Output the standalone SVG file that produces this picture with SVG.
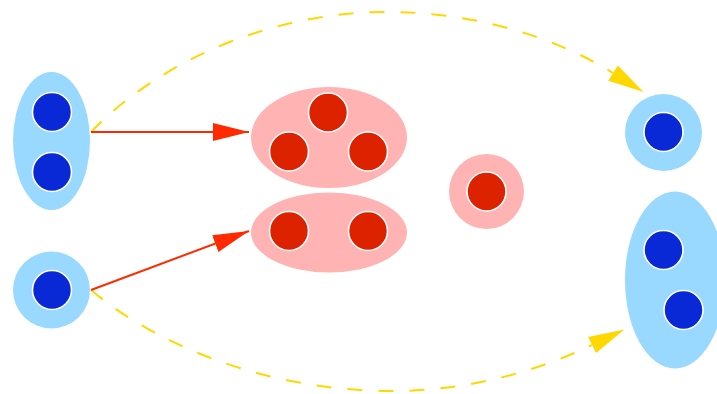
<svg xmlns="http://www.w3.org/2000/svg" width="717" height="394" viewBox="0 0 717 394">
  <style>
    .blue-shell { fill: #99d8ff; }
    .pink-shell { fill: #ffb3b3; }
    .blue-dot { fill: #0a29d6; stroke: #ffffff; stroke-width: 1.6; }
    .red-dot { fill: #dd2200; stroke: #ffffff; stroke-width: 1.6; }
    .solid { fill: none; stroke: #ff2a00; stroke-width: 2; }
    .dashed { fill: none; stroke: #ffd800; stroke-width: 2; stroke-dasharray: 15 16; }
  </style>
  <defs>
    <marker id="head-red" markerUnits="userSpaceOnUse" viewBox="0 0 36 18" refX="36" refY="9" markerWidth="36" markerHeight="18" orient="auto">
      <path d="M0,0 L36,9 L0,18 Z" fill="#ff2a00"/>
    </marker>
    <marker id="head-yellow" markerUnits="userSpaceOnUse" viewBox="0 0 36 18" refX="0" refY="9" markerWidth="36" markerHeight="18" orient="auto">
      <path d="M0,0 L36,9 L0,18 Z" fill="#ffd800"/>
    </marker>
  </defs>

  <rect width="717" height="394" fill="#ffffff"/>

  <!-- connectors -->
  <g id="connectors">
    <path class="dashed" d="M91,132 C150,70 260,12 387,12 C480,12 560,40 613,73" marker-end="url(#head-yellow)"/>
    <path class="dashed" d="M91,290 C150,340 260,391 392,391 C470,391 540,370 592,345" marker-end="url(#head-yellow)"/>
    <path class="solid" d="M91,132 L249,132" marker-end="url(#head-red)"/>
    <path class="solid" d="M91,290 L249,231" marker-end="url(#head-red)"/>
  </g>

  <!-- source nodes -->
  <g id="node-a">
    <ellipse class="blue-shell" cx="51.5" cy="141" rx="38.5" ry="69"/>
    <circle class="blue-dot" cx="52" cy="112" r="19.5"/>
    <circle class="blue-dot" cx="52" cy="172" r="19.5"/>
  </g>
  <g id="node-b">
    <circle class="blue-shell" cx="51.5" cy="290" r="38.5"/>
    <circle class="blue-dot" cx="52" cy="290" r="19.5"/>
  </g>

  <!-- middle nodes -->
  <g id="node-c">
    <ellipse class="pink-shell" cx="329" cy="137.5" rx="78" ry="50.5"/>
    <circle class="red-dot" cx="328" cy="112.5" r="19.5"/>
    <circle class="red-dot" cx="289" cy="151.5" r="19.5"/>
    <circle class="red-dot" cx="368" cy="151.5" r="19.5"/>
  </g>
  <g id="node-d">
    <ellipse class="pink-shell" cx="329" cy="232.5" rx="78" ry="40"/>
    <circle class="red-dot" cx="289" cy="231" r="19.5"/>
    <circle class="red-dot" cx="368" cy="231" r="19.5"/>
  </g>
  <g id="node-e">
    <circle class="pink-shell" cx="486.5" cy="191.5" r="37.5"/>
    <circle class="red-dot" cx="486.5" cy="191.5" r="19.5"/>
  </g>

  <!-- target nodes -->
  <g id="node-f">
    <circle class="blue-shell" cx="663.5" cy="132.5" r="38.5"/>
    <circle class="blue-dot" cx="663.5" cy="132" r="19.5"/>
  </g>
  <g id="node-g">
    <ellipse class="blue-shell" cx="675" cy="280" rx="50" ry="88.5"/>
    <circle class="blue-dot" cx="663.5" cy="250" r="19.5"/>
    <circle class="blue-dot" cx="683.5" cy="310" r="19.5"/>
  </g>
</svg>
